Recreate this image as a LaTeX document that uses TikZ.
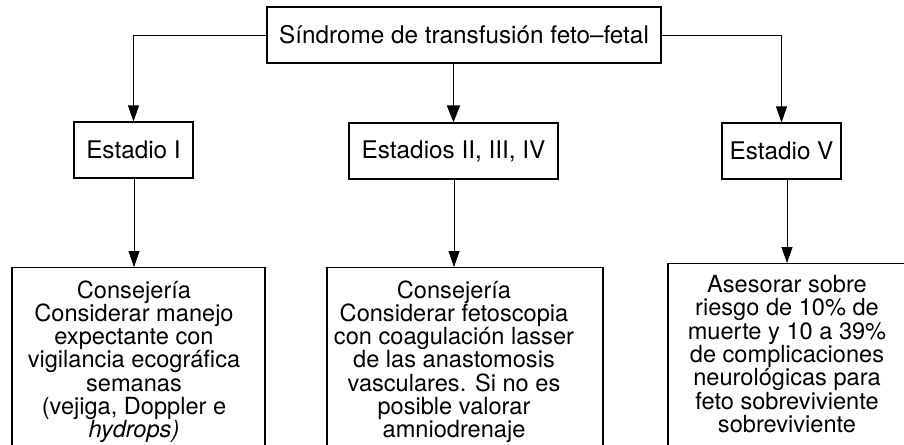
\documentclass[tikz,border=0pt]{standalone}
\usepackage{fontspec}
\setmainfont{TeX Gyre Heros}
\usetikzlibrary{arrows.meta}

\begin{document}
\begin{tikzpicture}[x=1pt, y=-1pt, >={Triangle[length=16pt,width=11pt]}, line width=0.8pt,
  caja/.style={draw, line width=1.1pt, inner sep=0pt, minimum height=56pt,
    font=\fontsize{24.3}{24}\selectfont},
  texto/.style={align=center, inner sep=0pt, anchor=north,
    font=\fontsize{23.6}{23.3}\selectfont}]
  \useasboundingbox (0,0) rectangle (904,444);
  \clip (0,0) rectangle (904,444);
  % caja superior
  \node[caja, minimum width=394pt] (sindrome) at (464,35) {Síndrome de transfusión feto–fetal};
  % estadios
  \node[caja, minimum width=119pt] (est1) at (133.5,150) {Estadio I};
  \node[caja, minimum width=209pt] (est2) at (453.5,151) {Estadios II, III, IV};
  \node[caja, minimum width=119pt] (est5) at (781.5,151) {Estadio V};
  % cajas inferiores, abiertas por abajo
  \node[caja, anchor=north, minimum width=253pt, minimum height=220pt] (man1) at (138.5,267) {};
  \node[caja, anchor=north, minimum width=276pt, minimum height=220pt] (man2) at (465,267) {};
  \node[caja, anchor=north, minimum width=238pt, minimum height=220pt] (man5) at (787,263) {};
  % textos
  \node[texto] (txt1) at (134,280) {Consejería\\Considerar manejo\\expectante con\\vigilancia ecográfica\\semanas\\(vejiga, Doppler e\\\textit{hydrops)}};
  \node[texto] (txt2) at (454,280) {Consejería\\Considerar fetoscopia\\con coagulación lasser\\de las anastomosis\\vasculares. Si no es\\posible valorar\\amniodrenaje};
  \node[texto] (txt5) at (787,275) {Asesorar sobre\\riesgo de 10\% de\\muerte y 10 a 39\%\\de complicaciones\\neurológicas para\\feto sobreviviente\\sobreviviente};
  % flechas
  \draw[->] (sindrome.west) -| (est1.north);
  \draw[->, line width=1.8pt, >={Triangle[length=17pt,width=13pt]}] (sindrome.south -| est2.north) -- (est2.north);
  \draw[->] (sindrome.east) -| (est5.north);
  \draw[->] (est1.south -| txt1.north) -- (man1.north -| txt1.north);
  \draw[->] (est2.south -| txt2.north) -- (man2.north -| txt2.north);
  \draw[->] (est5.south -| txt5.north) -- (man5.north -| txt5.north);
\end{tikzpicture}
\end{document}
